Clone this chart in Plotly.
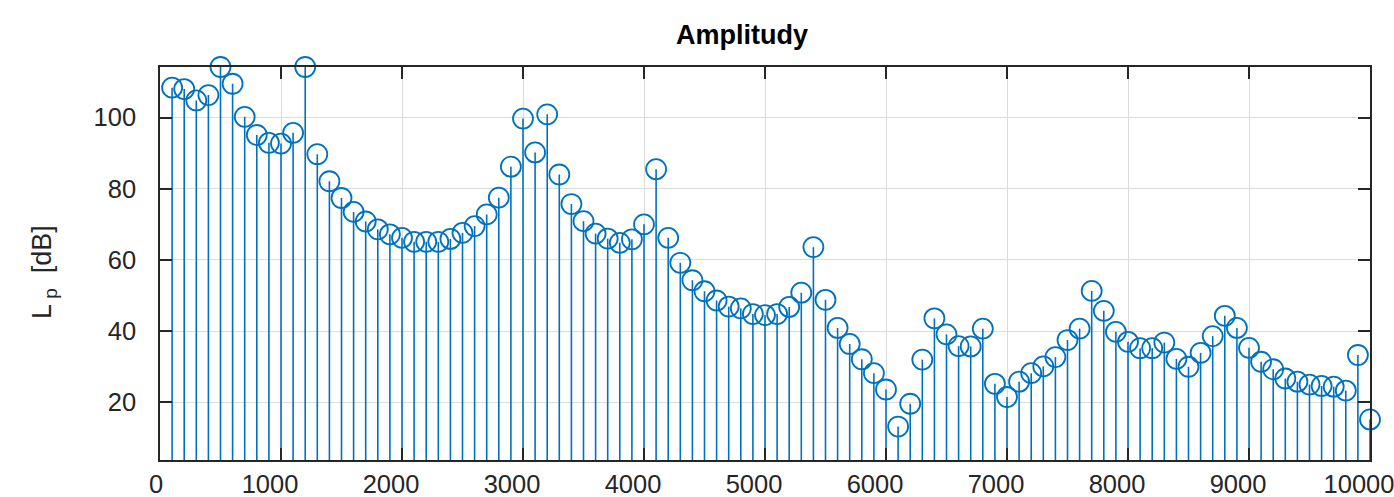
import plotly.graph_objects as go

freq = [100, 200, 300, 400, 500, 600, 700, 800, 900, 1000,
        1100, 1200, 1300, 1400, 1500, 1600, 1700, 1800, 1900, 2000,
        2100, 2200, 2300, 2400, 2500, 2600, 2700, 2800, 2900, 3000,
        3100, 3200, 3300, 3400, 3500, 3600, 3700, 3800, 3900, 4000,
        4100, 4200, 4300, 4400, 4500, 4600, 4700, 4800, 4900, 5000,
        5100, 5200, 5300, 5400, 5500, 5600, 5700, 5800, 5900, 6000,
        6100, 6200, 6300, 6400, 6500, 6600, 6700, 6800, 6900, 7000,
        7100, 7200, 7300, 7400, 7500, 7600, 7700, 7800, 7900, 8000,
        8100, 8200, 8300, 8400, 8500, 8600, 8700, 8800, 8900, 9000,
        9100, 9200, 9300, 9400, 9500, 9600, 9700, 9800, 9900, 10000]

level = [108.4, 108.0, 104.8, 106.3, 114.2, 109.5, 100.2, 95.1, 92.9, 92.7,
         95.7, 114.2, 89.7, 82.1, 77.4, 73.5, 70.8, 68.6, 67.2, 66.2,
         65.1, 65.1, 65.1, 65.9, 67.6, 69.5, 72.8, 77.5, 86.2, 99.7,
         90.2, 100.9, 84.0, 75.7, 70.9, 67.4, 66.0, 64.8, 65.8, 70.0,
         85.5, 66.2, 59.2, 54.3, 51.2, 48.6, 46.9, 46.4, 44.8, 44.5,
         44.8, 46.8, 50.8, 63.6, 48.8, 40.9, 36.4, 32.1, 28.2, 23.6,
         13.2, 19.6, 32.0, 43.6, 39.1, 35.8, 35.7, 40.7, 25.2, 21.5,
         25.8, 28.2, 30.1, 32.7, 37.5, 40.7, 51.3, 45.7, 39.8, 37.0,
         35.2, 35.2, 36.8, 32.2, 30.0, 33.9, 38.6, 44.3, 40.9, 35.3,
         31.4, 29.3, 26.7, 25.8, 25.0, 24.6, 24.4, 23.3, 33.3, 15.2]

x_ticks = [0, 1000, 2000, 3000, 4000, 5000, 6000, 7000, 8000, 9000, 10000]
x_labels = ["0", "1000", "2000", "3000", "4000", "5000", "6000", "7000", "8000", "9000", "10000"]
y_ticks = [20, 40, 60, 80, 100]
y_labels = ["20", "40", "60", "80", "100"]

baseline = 0
color = "#0072BD"
axis_col = "#262626"
font_family = "Liberation Sans, Arial, Helvetica, sans-serif"
NB = "\u00a0"

# stems as one line trace with gaps
sx, sy = [], []
for f, v in zip(freq, level):
    sx += [f, f, None]
    sy += [baseline, v, None]

fig = go.Figure()
fig.add_trace(go.Scatter(x=sx, y=sy, mode="lines",
                         line=dict(color=color, width=1.6),
                         hoverinfo="skip", showlegend=False))
fig.add_trace(go.Scatter(x=freq, y=level, mode="markers",
                         marker=dict(symbol="circle-open", size=20,
                                     color=color, line=dict(color=color, width=1.8)),
                         cliponaxis=False, showlegend=False))

fig.update_layout(
    width=1394, height=497,
    margin=dict(l=160, r=24, t=67, b=37),
    paper_bgcolor="white", plot_bgcolor="white",
    font=dict(family=font_family, size=25.5, color=axis_col),
    showlegend=False,
    title=dict(text="<b>Amplitudy</b>", x=742 / 1394, xref="container", xanchor="center",
               y=1 - 35 / 497, yref="container", yanchor="middle",
               font=dict(family=font_family, size=27, color="black")),
)

# labels in the reference sit slightly left of their ticks
x_text = [(NB * 2 + lab) if len(lab) == 1 else lab for lab in x_labels]

fig.update_xaxes(range=[0, 10000], tickvals=x_ticks, ticktext=x_text,
                 showgrid=True, gridcolor="#dcdcdc", gridwidth=1,
                 showline=True, linecolor=axis_col, linewidth=1.5, mirror="ticks",
                 ticks="inside", ticklen=12, tickwidth=1.5, tickcolor=axis_col,
                 ticklabelstandoff=1, ticklabelshift=-11, ticklabeloverflow="allow",
                 automargin=False, zeroline=False)
fig.update_yaxes(range=[3.8, 114.2], tickvals=y_ticks, ticktext=y_labels,
                 showgrid=True, gridcolor="#dcdcdc", gridwidth=1,
                 showline=True, linecolor=axis_col, linewidth=1.5, mirror="ticks",
                 ticks="inside", ticklen=12, tickwidth=1.5, tickcolor=axis_col,
                 ticklabelstandoff=17, ticklabeloverflow="allow",
                 automargin=False, zeroline=False)

fig.add_annotation(text="L<sub> p</sub>  [dB]", textangle=-90,
                   xref="paper", yref="paper",
                   x=(44 - 160) / 1210, y=(460 - 272) / 393,
                   xanchor="center", yanchor="middle", showarrow=False,
                   font=dict(family=font_family, size=27, color=axis_col))

fig.write_html("out.html")
